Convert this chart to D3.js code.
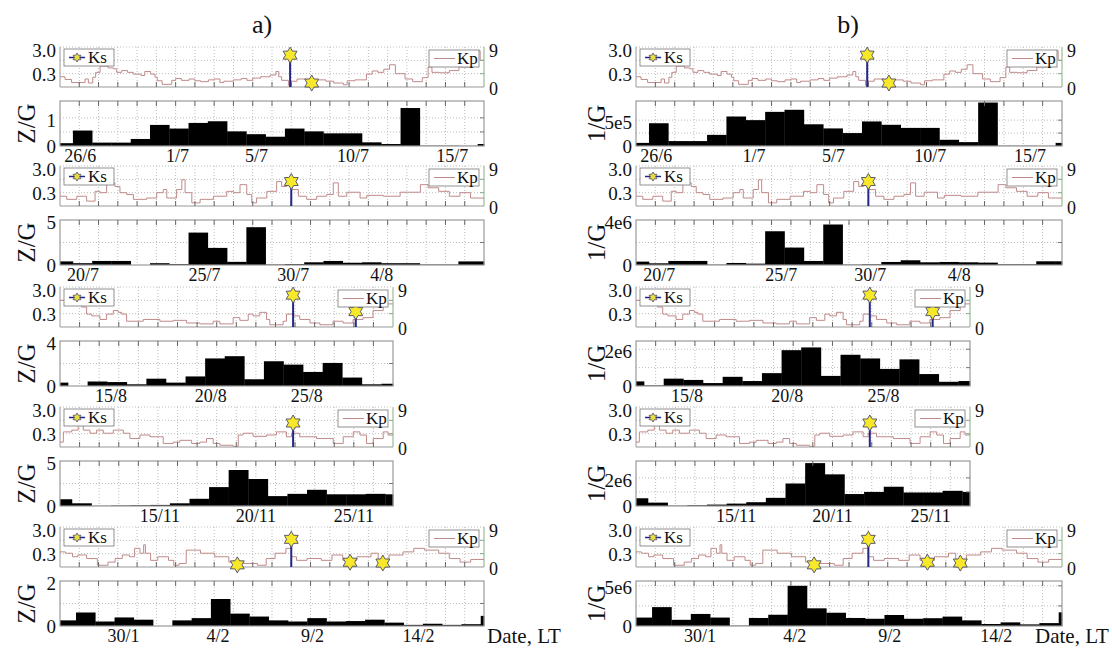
<!DOCTYPE html>
<html>
<head>
<meta charset="utf-8">
<script src="https://cdn.jsdelivr.net/npm/d3@7"></script>
<style>
  body { margin: 0; background: #fff; }
  svg { display: block; }
  text { font-family: "Liberation Serif", "Times New Roman", serif; fill: #111; }
</style>
</head>
<body>
<script>
const width = 1112;
const height = 649;

// days shown in each row, and where the first whole daily bin begins (days from row start)
const rowDays = [22, 22, 17, 17, 22];
const binStart = [0.67, 0.67, 0.41, 0.61, 0.83];

// date labels: [day from row start, text]
const dates1 = [[1.05, "26/6"], [6.1, "1/7"], [10.2, "5/7"], [15.2, "10/7"], [20.35, "15/7"]];
const dates2 = [[1.2, "20/7"], [7.5, "25/7"], [12.1, "30/7"], [16.7, "4/8"]];
const dates3 = [[2.6, "15/8"], [7.7, "20/8"], [12.6, "25/8"]];
const dates4 = [[5.1, "15/11"], [10.0, "20/11"], [15.0, "25/11"]];
const dates5 = [[3.3, "30/1"], [8.2, "4/2"], [13.1, "9/2"], [18.6, "14/2"]];

// Kp, 3-hourly steps: [day where the step starts, Kp]
const kp1 = [[0,2.3],[0.26,1.7],[0.6,1.0],[1.3,1.8],[1.47,0.9],[1.7,2.2],[1.85,3.3],[2.08,4.7],[2.5,4.3],[2.77,4.1],[2.94,3.3],[3.2,3.7],[3.5,3.3],[3.8,2.9],[4.2,2.6],[4.4,3.5],[4.7,2.9],[4.93,2.2],[5.05,1.4],[5.3,0.6],[5.8,1.5],[6.0,1.9],[6.3,1.5],[6.7,1.8],[7.0,1.4],[7.3,1.2],[7.7,1.6],[8.0,1.8],[8.3,1.0],[8.5,1.3],[9.0,1.6],[9.4,1.9],[9.7,1.5],[10.0,2.0],[10.4,2.3],[10.9,2.7],[11.2,3.5],[11.35,2.3],[11.5,1.5],[11.85,0.4],[12.0,1.3],[12.3,1.8],[12.8,1.4],[13.3,1.6],[13.8,1.3],[14.2,0.9],[14.7,0.5],[14.9,1.4],[15.3,1.6],[15.9,2.9],[16.2,3.6],[16.5,3.3],[16.8,4.0],[17.1,5.0],[17.4,3.0],[17.9,1.8],[18.3,1.2],[18.8,2.1],[19.1,4.5],[19.3,3.3],[19.7,3.2],[20.2,3.7],[20.7,4.5],[21.2,6.0],[21.5,8.2],[21.8,6.0]];
const kp2 = [[0,2.2],[0.35,1.5],[0.87,2.2],[1.38,1.1],[1.82,3.3],[2.08,3.0],[2.42,5.2],[2.85,4.4],[3.11,3.0],[3.46,2.6],[3.81,1.5],[4.5,1.8],[5.02,3.0],[5.36,3.7],[5.54,1.8],[6.05,3.7],[6.32,5.9],[6.49,3.0],[6.84,0.7],[7.27,1.5],[7.96,2.2],[8.65,3.3],[9.0,3.0],[9.34,4.8],[9.69,2.6],[9.95,0.7],[10.2,1.8],[10.73,3.3],[11.24,5.5],[11.5,4.4],[11.76,5.5],[12.02,3.7],[12.37,2.2],[12.8,1.5],[13.32,2.2],[13.84,2.6],[14.18,5.2],[14.44,2.2],[14.88,3.1],[15.57,1.8],[15.92,2.4],[16.78,2.2],[17.65,3.1],[18.7,4.8],[19.1,4.1],[19.65,3.3],[20.2,2.2],[20.75,3.0],[21.3,1.8]];
const kp3 = [[0,6.0],[0.34,5.2],[0.93,6.4],[1.1,4.5],[1.36,2.9],[1.62,2.5],[2.04,1.7],[2.38,2.9],[2.72,3.7],[2.97,3.3],[3.15,2.9],[3.4,1.3],[4.25,1.7],[5.1,1.3],[5.78,1.5],[6.46,0.9],[7.14,0.7],[7.82,1.3],[8.16,0.7],[8.84,2.1],[9.18,1.5],[9.61,2.9],[9.86,2.5],[10.2,3.3],[10.54,1.7],[10.71,0.5],[11.39,1.3],[11.56,2.9],[11.9,2.5],[12.24,1.7],[12.76,0.9],[13.27,0.5],[13.94,1.3],[14.45,0.9],[14.96,1.7],[15.47,2.1],[15.98,3.7],[16.5,5.2]];
const kp4 = [[0,1.1],[0.17,3.4],[0.6,3.8],[0.93,5.3],[1.19,3.8],[1.53,3.1],[1.87,3.8],[2.21,3.1],[2.72,3.8],[3.23,3.1],[3.57,1.9],[4.08,2.7],[4.59,2.3],[5.27,0.8],[5.78,1.1],[6.12,1.5],[6.72,0.8],[7.14,1.1],[7.48,1.9],[7.82,0.8],[8.16,0.4],[8.84,0.15],[9.1,2.7],[9.35,3.1],[9.86,2.4],[10.54,2.7],[11.05,3.4],[11.56,2.3],[11.82,3.1],[12.24,2.3],[13.1,1.9],[13.95,0.8],[14.46,2.3],[14.97,3.4],[15.31,2.7],[15.65,0.8],[15.99,1.9],[16.5,3.4],[16.75,2.7]];
const kp5 = [[0,3.4],[0.28,3.1],[0.65,2.3],[0.92,2.7],[1.38,1.9],[1.94,0.4],[2.49,1.1],[2.86,1.9],[3.23,2.7],[3.6,2.3],[3.87,4.2],[4.15,3.1],[4.34,5.0],[4.43,3.1],[4.7,1.5],[5.07,2.3],[5.63,1.5],[5.9,0.4],[6.18,0.8],[6.55,3.8],[7.29,3.1],[8.03,2.3],[8.76,1.1],[9.5,0.8],[10.24,0.4],[10.7,1.9],[11.16,3.1],[11.72,4.2],[12.0,2.3],[12.27,1.5],[12.82,1.9],[13.56,1.5],[14.11,2.7],[14.67,1.5],[15.41,2.3],[16.14,3.1],[16.51,1.5],[17.07,2.7],[17.8,3.4],[18.36,4.2],[18.91,3.8],[19.65,3.1],[20.2,1.9],[20.76,1.1],[21.31,1.7]];

// Ks events: [day, Ks]
const ks1 = [[11.94, 1.5], [13.06, 0.14]];
const ks2 = [[12.0, 0.8]];
const ks3 = [[11.9, 1.5], [15.1, 0.37]];
const ks4 = [[11.9, 0.77]];
const ks5 = [[9.2, 0.12], [12.0, 1.05], [15.05, 0.15], [16.75, 0.14]];

// daily bins, column a) Z/G
const zg1 = [0.1, 0.55, 0.12, 0.12, 0.25, 0.75, 0.62, 0.82, 0.88, 0.52, 0.42, 0.33, 0.62, 0.52, 0.45, 0.45, 0.13, 0.07, 1.35, 0.01, 0.01, 0.005, 0.07];
const zg2 = [0.4, 0.2, 0.45, 0.45, 0.0, 0.2, 0.1, 3.6, 1.9, 0.35, 4.2, 0.05, 0.1, 0.3, 0.45, 0.25, 0.3, 0.2, 0.2, 0.05, 0.05, 0.4, 0.4];
const zg3 = [0.3, 0.0, 0.4, 0.35, 0.15, 0.65, 0.3, 0.85, 2.45, 2.65, 0.6, 2.2, 1.9, 1.25, 2.05, 0.75, 0.15, 0.2];
const zg4 = [0.75, 0.3, 0.02, 0.05, 0.08, 0.12, 0.3, 0.8, 2.1, 4.0, 3.0, 1.1, 1.35, 1.8, 1.3, 1.3, 1.35, 1.3];
const zg5 = [0.25, 0.6, 0.2, 0.38, 0.28, 0.0, 0.25, 0.35, 1.2, 0.55, 0.42, 0.25, 0.2, 0.35, 0.2, 0.22, 0.28, 0.15, 0.05, 0.1, 0.05, 0.08, 0.45];

// daily bins, column b) 1/G
const ig1 = [6e4, 4.4e5, 9.5e4, 9.5e4, 2.15e5, 5.7e5, 5.0e5, 6.6e5, 7.0e5, 4.2e5, 3.4e5, 2.5e5, 4.75e5, 4.1e5, 3.5e5, 3.5e5, 1.2e5, 7.5e4, 8.4e5, 5e3, 4e3, 2e3, 6e4];
const ig2 = [3e5, 1.5e5, 3.6e5, 3.6e5, 3e4, 1.8e5, 1.2e5, 3.0e6, 1.55e6, 3.6e5, 3.6e6, 3e4, 6e4, 2.7e5, 4.2e5, 2.4e5, 2.7e5, 2.4e5, 2.1e5, 6e4, 6e4, 3.3e5, 3.3e5];
const ig3 = [2.5e5, 3e4, 4e5, 3.3e5, 1.6e5, 5e5, 2.7e5, 7e5, 1.95e6, 2.1e6, 5.5e5, 1.7e6, 1.5e6, 9.3e5, 1.45e6, 6.5e5, 2.3e5, 2.7e5];
const ig4 = [5.5e5, 2.4e5, 2e4, 5e4, 1e5, 1.7e5, 2.7e5, 5.8e5, 1.6e6, 3.05e6, 2.25e6, 8.5e5, 1.0e6, 1.37e6, 9.6e5, 9.6e5, 1.08e6, 1.0e6];
const ig5 = [1.05e6, 2.35e6, 7.7e5, 1.5e6, 1.05e6, 4e4, 1.0e6, 1.4e6, 5.0e6, 2.2e6, 1.65e6, 1.0e6, 9e5, 1.37e6, 9e5, 9.7e5, 1.17e6, 7e5, 2.5e5, 4.5e5, 2e5, 3.6e5, 1.7e6];

// bar axes: top of scale, labelled ticks, extra grid values
const zgMax = [1.6, 5, 4, 5, 2];
const zgTicks = [[0, 1], [0, 5], [0, 4], [0, 5], [0, 2]];
const zgGrid = [[0.5, 1], [2.5], [2], [2.5], [1]];
const igMax = [8.7e5, 4e6, 2.45e6, 3.2e6, 5.6e6];
const igTicks = [[0, 5e5], [0, 4e6], [0, 2e6], [0, 2e6], [0, 5e6]];
const igGrid = [[2.5e5, 5e5], [2e6], [1e6, 2e6], [1e6, 2e6], [2.5e6, 5e6]];

const kpList = [kp1, kp2, kp3, kp4, kp5];
const ksList = [ks1, ks2, ks3, ks4, ks5];
const dateList = [dates1, dates2, dates3, dates4, dates5];

const cols = [
  { left: 60, full: 424, short: 333, title: "a)", titleX: 262, yName: "Z/G", yNameX: 26,
    bars: [zg1, zg2, zg3, zg4, zg5], yMax: zgMax, yTicks: zgTicks, yGrid: zgGrid },
  { left: 636, full: 426, short: 334, title: "b)", titleX: 848, yName: "1/G", yNameX: 596,
    bars: [ig1, ig2, ig3, ig4, ig5], yMax: igMax, yTicks: igTicks, yGrid: igGrid }
];

const rowTop = [47, 166, 287, 407, 527];
const kpH = 40;
const barGap = 54;
const barH = 45;

const kpColor = "#c08a8a";
const stemColor = "#25258a";
const frameColor = "#9a9a9a";
const gridColor = "#bdbdbd";
const axisGreen = "#86ad86";

const svg = d3.select("body").append("svg")
  .attr("width", width)
  .attr("height", height)
  .style("background", "#fff");

function hexagram(r) {
  const pts = d3.range(12).map(i => {
    const a = Math.PI / 6 * i - Math.PI / 2;
    const rr = i % 2 ? r * 0.58 : r;
    return [rr * Math.cos(a), rr * Math.sin(a)];
  });
  return "M" + pts.map(p => p[0].toFixed(2) + "," + p[1].toFixed(2)).join("L") + "Z";
}

function fmtBar(v) {
  if (v === 0) return "0";
  if (v < 100) return String(v);
  const e = Math.floor(Math.log10(v));
  return Math.round(v / Math.pow(10, e)) + "e" + e;
}

function drawPanel(c, r) {
  const col = cols[c];
  const days = rowDays[r];
  const x0 = col.left;
  const w = days === 22 ? col.full : col.short;
  const x = d3.scaleLinear().domain([0, days]).range([x0, x0 + w]);
  const top = rowTop[r];
  const bottom = top + kpH;
  const ksY = d3.scaleLog().domain([0.1, 3]).range([bottom, top]);
  const kpY = d3.scaleLinear().domain([0, 9]).range([bottom, top]);
  const dayTicks = d3.range(1, days);
  const g = svg.append("g");

  // ---- Kp / Ks panel ----
  g.selectAll(null).data(dayTicks).join("line")
    .attr("x1", d => x(d)).attr("x2", d => x(d))
    .attr("y1", top).attr("y2", bottom)
    .attr("stroke", gridColor).attr("stroke-dasharray", "1,2");
  g.selectAll(null).data([3, 6, 9]).join("line")
    .attr("x1", x0).attr("x2", x0 + w)
    .attr("y1", d => kpY(d)).attr("y2", d => kpY(d))
    .attr("stroke", gridColor).attr("stroke-dasharray", "1,2");

  const kp = kpList[r];
  const pts = kp.concat([[days, kp[kp.length - 1][1]]]);
  g.append("path")
    .attr("d", d3.line().curve(d3.curveStepAfter).x(d => x(d[0])).y(d => kpY(d[1]))(pts))
    .attr("fill", "none").attr("stroke", kpColor).attr("stroke-width", 1);

  g.append("line").attr("x1", x0).attr("x2", x0 + w).attr("y1", bottom).attr("y2", bottom)
    .attr("stroke", frameColor).attr("stroke-width", 1.2);
  g.append("line").attr("x1", x0).attr("x2", x0).attr("y1", top).attr("y2", bottom)
    .attr("stroke", frameColor);
  g.append("line").attr("x1", x0 + w).attr("x2", x0 + w).attr("y1", top).attr("y2", bottom)
    .attr("stroke", axisGreen);
  g.selectAll(null).data([3, 6]).join("line")
    .attr("x1", x0 + w - 4).attr("x2", x0 + w)
    .attr("y1", d => kpY(d)).attr("y2", d => kpY(d))
    .attr("stroke", axisGreen);
  g.selectAll(null).data(dayTicks).join("line")
    .attr("x1", d => x(d)).attr("x2", d => x(d))
    .attr("y1", bottom).attr("y2", bottom - 5)
    .attr("stroke", "#666");

  // Ks stems and stars
  const ks = ksList[r];
  g.selectAll(null).data(ks).join("line")
    .attr("x1", d => x(d[0])).attr("x2", d => x(d[0]))
    .attr("y1", bottom).attr("y2", d => ksY(d[1]))
    .attr("stroke", stemColor).attr("stroke-width", 2);
  g.selectAll(null).data(ks).join("path")
    .attr("d", hexagram(8))
    .attr("transform", d => `translate(${x(d[0])},${ksY(d[1])})`)
    .attr("fill", "#f7e82a").attr("stroke", "#4a4a6a").attr("stroke-width", 0.9);

  // legends
  const lg = g.append("g").attr("transform", `translate(${x0 + 4},${top + 2})`);
  lg.append("rect").attr("width", 50).attr("height", 17)
    .attr("fill", "#fff").attr("stroke", "#777").attr("stroke-width", 0.8);
  lg.append("line").attr("x1", 5).attr("x2", 21).attr("y1", 8.5).attr("y2", 8.5)
    .attr("stroke", stemColor).attr("stroke-width", 1.5);
  lg.append("path").attr("d", hexagram(4.5)).attr("transform", "translate(13,8.5)")
    .attr("fill", "#e8dc40").attr("stroke", "#4a4a6a").attr("stroke-width", 0.8);
  lg.append("text").attr("x", 24).attr("y", 14).attr("font-size", 17).text("Ks");

  const lk = g.append("g").attr("transform", `translate(${x0 + w - 55},${top + 3})`);
  lk.append("rect").attr("width", 50).attr("height", 17)
    .attr("fill", "#fff").attr("stroke", "#777").attr("stroke-width", 0.8);
  lk.append("line").attr("x1", 5).attr("x2", 26).attr("y1", 8.5).attr("y2", 8.5)
    .attr("stroke", kpColor).attr("stroke-width", 1);
  lk.append("text").attr("x", 28).attr("y", 14).attr("font-size", 17).text("Kp");

  // axis labels of the Kp panel
  g.selectAll(null).data([3.0, 0.3]).join("text")
    .attr("x", x0 - 4).attr("y", d => ksY(d) + (d === 3 ? 3 : 0)).attr("dy", "0.35em")
    .attr("text-anchor", "end").attr("font-size", 19)
    .text(d => d.toFixed(1));
  g.selectAll(null).data([9, 0]).join("text")
    .attr("x", x0 + w + 5).attr("y", d => kpY(d) + (d === 9 ? 4 : 2)).attr("dy", "0.35em")
    .attr("font-size", 18)
    .text(d => d);

  // ---- bar panel ----
  const bTop = top + barGap;
  const bBottom = bTop + barH;
  const by = d3.scaleLinear().domain([0, col.yMax[r]]).range([bBottom, bTop]);

  g.selectAll(null).data(dayTicks).join("line")
    .attr("x1", d => x(d)).attr("x2", d => x(d))
    .attr("y1", bTop).attr("y2", bBottom)
    .attr("stroke", gridColor).attr("stroke-dasharray", "1,2");
  g.selectAll(null).data(col.yGrid[r]).join("line")
    .attr("x1", x0).attr("x2", x0 + w)
    .attr("y1", d => by(d)).attr("y2", d => by(d))
    .attr("stroke", gridColor).attr("stroke-dasharray", "1,2");

  const bins = col.bars[r].map((v, i) => {
    const a = Math.max(0, binStart[r] + i - 1);
    const b = Math.min(days, binStart[r] + i);
    return { v, a, b };
  }).filter(d => d.b > d.a);
  g.selectAll(null).data(bins).join("rect")
    .attr("x", d => x(d.a))
    .attr("width", d => x(d.b) - x(d.a) + 0.3)
    .attr("y", d => by(d.v))
    .attr("height", d => bBottom - by(d.v))
    .attr("fill", "#000");

  g.append("rect").attr("x", x0).attr("y", bTop).attr("width", w).attr("height", barH)
    .attr("fill", "none").attr("stroke", frameColor).attr("stroke-width", 1.2);
  g.selectAll(null).data(dayTicks).join("line")
    .attr("x1", d => x(d)).attr("x2", d => x(d))
    .attr("y1", bTop).attr("y2", bTop + 5)
    .attr("stroke", "#666");
  g.selectAll(null).data(col.yGrid[r]).join("line")
    .attr("x1", x0 + w - 4).attr("x2", x0 + w)
    .attr("y1", d => by(d)).attr("y2", d => by(d))
    .attr("stroke", "#777");

  g.selectAll(null).data(col.yTicks[r]).join("text")
    .attr("x", x0 - 4).attr("y", d => by(d) + (d === 0 ? 0 : 2)).attr("dy", "0.35em")
    .attr("text-anchor", "end").attr("font-size", 19)
    .text(fmtBar);

  g.append("text")
    .attr("transform", `translate(${col.yNameX},${(bTop + bBottom) / 2}) rotate(-90)`)
    .attr("text-anchor", "middle").attr("dy", "0.35em")
    .attr("font-size", 25)
    .text(col.yName);

  g.selectAll(null).data(dateList[r]).join("text")
    .attr("x", d => x(d[0])).attr("y", bBottom + 16)
    .attr("text-anchor", "middle").attr("font-size", 18)
    .text(d => d[1]);

  if (r === 4) {
    g.append("text")
      .attr("x", c === 0 ? x0 + w + 3 : x0 + w - 27).attr("y", bBottom + 17)
      .attr("font-size", 21)
      .text("Date, LT");
  }
}

cols.forEach((col, c) => {
  svg.append("text")
    .attr("x", col.titleX).attr("y", 33)
    .attr("text-anchor", "middle").attr("font-size", 26)
    .text(col.title);
  d3.range(5).forEach(r => drawPanel(c, r));
});
</script>
</body>
</html>
